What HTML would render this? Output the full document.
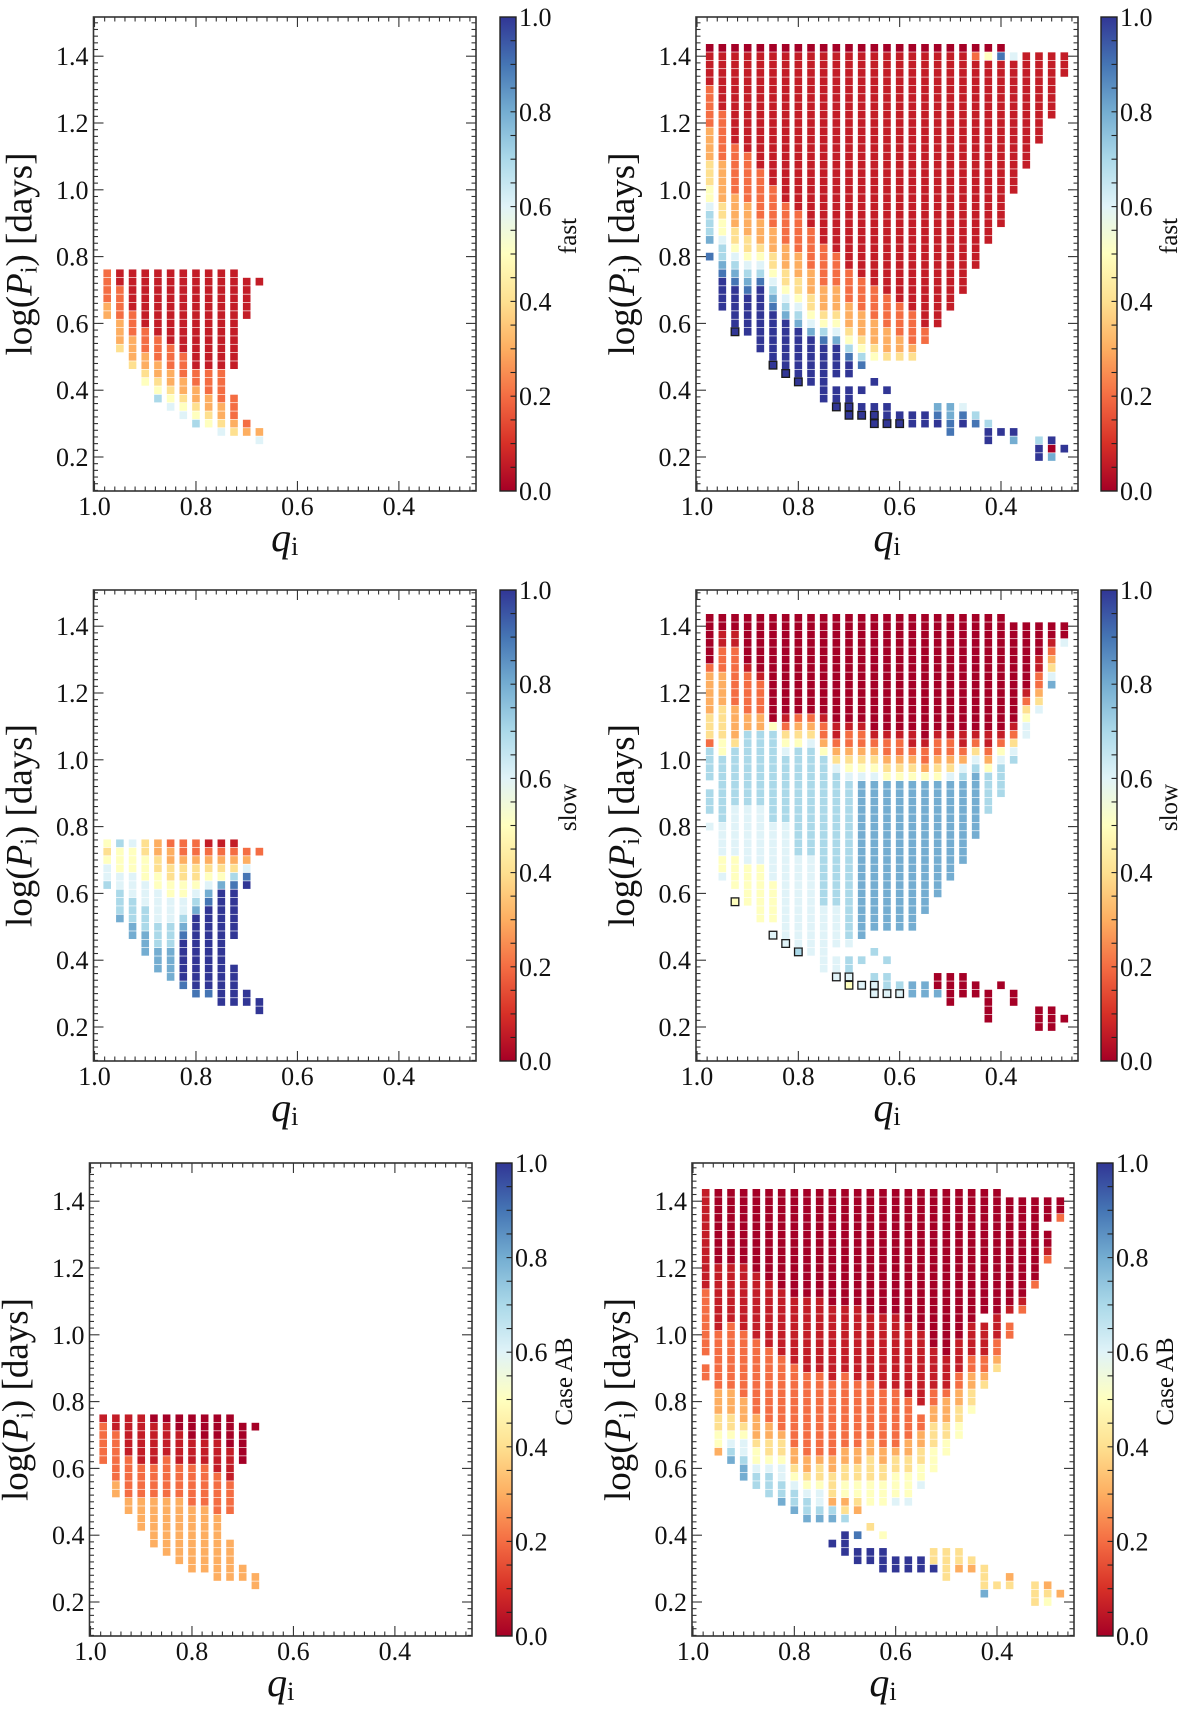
<!DOCTYPE html>
<html><head><meta charset="utf-8">
<style>
html,body{margin:0;padding:0;background:#fff;}
svg{display:block;}
text{font-family:"Liberation Serif","DejaVu Serif",serif;fill:#111;}
</style></head>
<body>
<svg id="fig" xmlns="http://www.w3.org/2000/svg" width="1200" height="1718" viewBox="0 0 1200 1718">
<defs>
<linearGradient id="rdylbu" x1="0" y1="1" x2="0" y2="0">
<stop offset="0" stop-color="#a50026"/><stop offset="0.1" stop-color="#d73027"/><stop offset="0.2" stop-color="#f46d43"/><stop offset="0.3" stop-color="#fdae61"/><stop offset="0.4" stop-color="#fee090"/><stop offset="0.5" stop-color="#ffffbf"/><stop offset="0.6" stop-color="#e0f3f8"/><stop offset="0.7" stop-color="#abd9e9"/><stop offset="0.8" stop-color="#74add1"/><stop offset="0.9" stop-color="#4575b4"/><stop offset="1" stop-color="#313695"/>
</linearGradient>
</defs>
</svg>
<script>
// ---- data (per column: [first row index, run-length string of value letters a=0.0 ... k=1.0, '.' = empty, uppercase = outlined]) ----
const qValues = [0.975,0.95,0.925,0.9,0.875,0.85,0.825,0.8,0.775,0.75,0.725,0.7,0.675,0.65,0.625,0.6,0.575,0.55,0.525,0.5,0.475,0.45,0.425,0.4,0.375,0.35,0.325,0.3,0.275];
const logPStart = 0.2;
const logPStep = 0.025;
const letterValues = {a:0,b:0.06,c:0.2,d:0.3,e:0.4,f:0.5,g:0.6,h:0.7,i:0.8,j:0.9,k:1.0};
const xTickValues = [1.0,0.8,0.6,0.4];
const xTickLabels = ["1.0","0.8","0.6","0.4"];
const yTickValues = [0.2,0.4,0.6,0.8,1.0,1.2,1.4];
const yTickLabels = ["0.2","0.4","0.6","0.8","1.0","1.2","1.4"];
const cbTickValues = [0,0.2,0.4,0.6,0.8,1.0];
const cbTickLabels = ["0.0","0.2","0.4","0.6","0.8","1.0"];

const fastLeft = [[17,"d2c4"],[13,"ed3c4b2"],[11,"ed3c3b5"],[9,"fed2c3b7"],[7,"hfed2c3b8"],[6,"gfed2c3b9"],[5,"gfed2c3b10"],[4,"hfed2c2b12"],[4,"fed2c3b12"],[3,"ged2c4b12"],[3,"edc3.3b12"],[3,"dc.12b5"],[2,"gd.17b"]];
const slowLeft = [[17,"hg2fef"],[13,"ih3g2f3h"],[11,"i2h3g3f3g"],[9,"i3h3g3f3e2"],[7,"i3h3g4f2e2d2"],[6,"i4h3g3f2e2d2c"],[5,"jk5jihg2f2e2dc2"],[4,"jk9ihgfe2dc2"],[4,"jk10jigfedcb"],[3,"k14ifedcb"],[3,"k5.3k6jhedcb"],[3,"k2.12kjgdc"],[2,"k2.17c"]];
const abLeft = [[17,"c5b"],[13,"d2c6b2"],[11,"d2c5b5"],[9,"d4c4b6"],[7,"d6c4b5a"],[6,"d7c5b4a"],[5,"d8c4b4a2"],[4,"d8c5b3a3"],[4,"d8c5b3a3"],[3,"d8c5b4a3"],[3,"d5.3c4b4a4"],[3,"d2.12a5"],[2,"d2.17a"]];
const fastRight = [[24,"j.ih3gf2e3d4c5b4a"],[18,"k4jih2gf2e2d5c6b7a"],[15,"Kk5jihgfe2d4c6b11a"],[15,"k5jihgfe2d4c6b12a"],[13,"k8jhgfed3c6b14a"],[11,"Kk6jihgfe2d3c5b16a"],[10,"Kk6ihgfe2d3c5b18a"],[9,"Kk6ihgfe2d3c5b19a"],[9,"k6igfe2d3c5b21a"],[7,"k7jhfed3c5b23a"],[6,"Kk2.k4igfed3c4b24a"],[5,"K2k2.k2jhfed3c4b26a"],[5,"Kk.k.2jhfed3c4b27a"],[4,"K2k.2k.2fed3c4b28a"],[4,"Kk2.k.3ed3c4b29a"],[4,"Kk.6ed2c4b30a"],[4,"k2.6edc4b31a"],[4,"k2.8c2b33a"],[4,"kji.9b33a"],[3,"j2i2.11b31a"],[4,"kjg.13b29a"],[4,"jh.17b25ca"],[2,"k2h.21b22fa"],[3,"k.24b20ja"],[2,"ik.28b16g"],[35,"b14"],[0,"k2h.35b11"],[0,"iak.38b8"],[1,"k.44b3"]];
const slowRight = [[24,"g.h3.h4ce3d5ca6"],[18,"gf2g4h8f2e4d4c3b2a2"],[15,"F.f4g6h7ed4c7b2a2"],[15,"f5g7h9d2c5ba6"],[13,"f7g7h9d2c4ba7"],[11,"G.f5g7h11fa13"],[10,"Gg14h8gfecba12"],[9,"Hg11h13fedca12"],[9,"g12h13gedca12"],[7,"g8h18fdc2ba12"],[6,"Gg2.g5h16gedcb2a13"],[5,"FGh2.gh19gfedc2ba13"],[5,"G.2h.2i19gfedc2ba13"],[4,"G2h.2h.2i18gfedcba14"],[4,"Gh2.h.3i18fedc2ba14"],[4,"Gh.6i18fedc2ba14"],[4,"i2.6i18fedcb2a14"],[4,"i2.8i16fdc2ba15"],[4,"ia2.9i14fedc2ba14"],[3,"a4.11i12gedc2ba14"],[4,"a3.13i10hgdcb2a14"],[4,"a2.17i8hgecba14"],[1,"a4.21h5fdcb2a14"],[5,"a.22h4gfcba14"],[3,"a2.27hgecba12"],[35,"g2fecba8"],[0,"a3.35gedc2b2a4"],[0,"a3.38igedcba2"],[1,"a.44ga2"]];
const abRight = [[27,"c2.c8b12"],[18,"df2e2d3c7b8a9"],[17,"ihgfe2d3c8b7a9"],[15,"i2hg2fed3c8b8a9"],[14,"h2gf2ed3c9b8a10"],[13,"h3gfe2d2c9b8a11"],[12,"ih2g2fe2dc9b8a12"],[11,"ih2gfed2c10b8a13"],[10,"ih2gfed2c10b9a13"],[10,"ihg2fe2dc10b9a13"],[7,"k.2ihde3d2c9b9a14"],[6,"k3.hedf2e2d2c9b8a14"],[5,"k2.j.2def2e2d2c8b9a14"],[5,"k2.2e.2f3e3d2c7b8a15"],[4,"k3.f.3f3e2d2c7b9a15"],[4,"k2.6gf3e2dc7b9a15"],[4,"k2.6gf3e2d2c5b9a16"],[4,"k2.8gf2e2d2c2.b9a17"],[4,"ke2.9f3e3d2c2b5a19"],[3,"e4.11f2e2d3cb4a20"],[4,"de2.13f2e2d2c2b4a18"],[4,"de.17fe2d2c2b4a16"],[1,"ie3.21edc2b4.a15"],[2,"e.25edc2b3a15"],[2,"ed.28c2.ba13"],[35,"cba12"],[0,"e3.35ca10"],[0,"fed.38cba2.a3"],[1,"d.44ca2"]];

const cmapStops = ["#a50026","#d73027","#f46d43","#fdae61","#fee090","#ffffbf","#e0f3f8","#abd9e9","#74add1","#4575b4","#313695"];

// ---- layout ----
const panels = [
 {name:"fast-left",data:fastLeft,label:"fast",x0:93.5,x1:476,top:17,bottom:491,cb:500},
 {name:"fast-right",data:fastRight,label:"fast",x0:696,x1:1078,top:17,bottom:491,cb:1101},
 {name:"slow-left",data:slowLeft,label:"slow",x0:93.5,x1:476,top:590,bottom:1061,cb:500},
 {name:"slow-right",data:slowRight,label:"slow",x0:696,x1:1078,top:590,bottom:1061,cb:1101},
 {name:"caseab-left",data:abLeft,label:"Case AB",x0:89.5,x1:472,top:1163,bottom:1636,cb:496},
 {name:"caseab-right",data:abRight,label:"Case AB",x0:692,x1:1074,top:1163,bottom:1636,cb:1097}
];
const NS="http://www.w3.org/2000/svg";
const svg=document.getElementById('fig');
function mk(tag,attrs,parent){const e=document.createElementNS(NS,tag);for(const k in attrs)e.setAttribute(k,attrs[k]);(parent||svg).appendChild(e);return e;}
function color(v){const t=Math.max(0,Math.min(1,v))*10;const i=Math.min(9,Math.floor(t));const f=t-i;
 const a=cmapStops[i],b=cmapStops[i+1];const p=s=>[1,3,5].map(o=>parseInt(s.substr(o,2),16));
 const ca=p(a),cb=p(b);return 'rgb('+ca.map((c,n)=>Math.round(c+(cb[n]-c)*f)).join(',')+')';}
function decode(str){const out=[];const re=/([a-kA-K.])(\d*)/g;let m;
 while((m=re.exec(str))){const n=m[2]?parseInt(m[2]):1;for(let i=0;i<n;i++)out.push(m[1]);}return out;}

panels.forEach(P=>{
 const g=mk('g',{});
 
 
 const xs=q=>P.x0+(1.002-q)/(1.002-0.248)*(P.x1-P.x0);
 const ys=v=>P.bottom-34-(v-0.2)*334;
 const cells=mk('g',{},g);
 
 
 P.data.forEach((col,k)=>{
  const seq=decode(col[1]);
  seq.forEach((ch,i)=>{
   if(ch==='.')return;
   const j=col[0]+i;
   const lc=ch.toLowerCase();
   const v=letterValues[lc];
   const cx=xs(qValues[k]),cy=ys(logPStart+logPStep*j);
   const outlined=ch!==lc;
   const r=mk('rect',{x:(cx-3.8).toFixed(2),y:(cy-3.85).toFixed(2),width:7.6,height:7.7,fill:color(v),
     stroke:outlined?'#1a1a1a':'none','stroke-width':outlined?1.3:0},cells);
   
   
  });
 });
 const fr=mk('rect',{x:P.x0,y:P.top,width:P.x1-P.x0,height:P.bottom-P.top,fill:'none',stroke:'#333',"stroke-width":1.6},g);
 
 
 const tk=mk('g',{stroke:'#333','stroke-width':1.1},g);
 
 
 for(let m=0;m<=40;m++){const q=0.24+m*0.02;if(q>1.0005)break;const x=xs(q);if(x<P.x0+0.5||x>P.x1-0.5)continue;
  const major=xTickValues.some(t=>Math.abs(t-q)<1e-6);const L=major?10:4.5;
  mk('line',{x1:x,x2:x,y1:P.bottom,y2:P.bottom-L},tk);mk('line',{x1:x,x2:x,y1:P.top,y2:P.top+L},tk);}
 for(let m=0;m<=80;m++){const v=0.1+m*0.02;const y=ys(v);if(y<P.top+0.5||y>P.bottom-0.5)continue;
  const major=yTickValues.some(t=>Math.abs(t-v)<1e-6);const L=major?10:4.5;
  mk('line',{y1:y,y2:y,x1:P.x0,x2:P.x0+L},tk);mk('line',{y1:y,y2:y,x1:P.x1,x2:P.x1-L},tk);}
 xTickValues.forEach((t,i)=>{const e=mk('text',{x:xs(t),y:P.bottom+24,'font-size':26,'text-anchor':'middle'},g);e.textContent=xTickLabels[i];
  });
 yTickValues.forEach((t,i)=>{const e=mk('text',{x:P.x0-5,y:ys(t)+9,'font-size':26,'text-anchor':'end'},g);e.textContent=yTickLabels[i];
  });
 const xl=mk('text',{x:(P.x0+P.x1)/2,y:P.bottom+60,'font-size':40,'text-anchor':'middle'},g);
 xl.innerHTML='<tspan font-style="italic">q</tspan><tspan font-size="26" dy="4">i</tspan>';
 
 const cy=(P.top+P.bottom)/2;const lx=P.x0-62;
 const yl=mk('text',{x:lx,y:cy,'font-size':37,'text-anchor':'middle',transform:`rotate(-90 ${lx} ${cy})`},g);
 yl.innerHTML='log(<tspan font-style="italic">P</tspan><tspan font-size="24" dy="5">i</tspan><tspan dy="-5">) [days]</tspan>';
 
 const cbg=mk('g',{},g);
 
 
 mk('rect',{x:P.cb,y:P.top,width:16,height:P.bottom-P.top,fill:'url(#rdylbu)',stroke:'#222','stroke-width':1.4},cbg);
 const cbY=v=>P.bottom-v*(P.bottom-P.top);
 for(let m=1;m<20;m++){const y=cbY(m*0.05);mk('line',{x1:P.cb+16,x2:P.cb+10.5,y1:y,y2:y,stroke:'#222','stroke-width':1.1},cbg);}
 cbTickValues.forEach((t,i)=>{const e=mk('text',{x:P.cb+19,y:cbY(t)+9,'font-size':26},cbg);e.textContent=cbTickLabels[i];
  });
 const clx=P.cb+76,cly=cy-18;
 const cl=mk('text',{x:clx,y:cly,'font-size':25,'text-anchor':'middle',transform:`rotate(-90 ${clx} ${cly})`},cbg);
 cl.textContent=P.label;
 
});
</script>
</body></html>
